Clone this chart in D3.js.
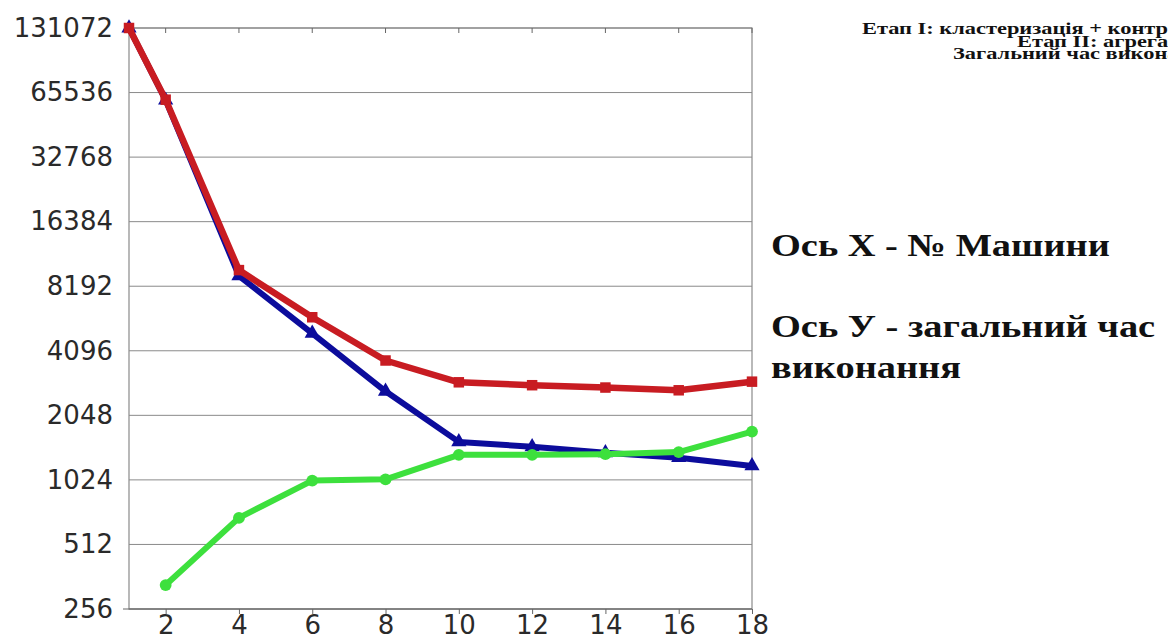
<!DOCTYPE html>
<html>
<head>
<meta charset="utf-8">
<script src="https://cdn.jsdelivr.net/npm/d3@7"></script>
<style>
  html, body { margin: 0; padding: 0; background: #fff; overflow: hidden; }
  svg { display: block; }
</style>
</head>
<body>
<svg id="chart" width="1168" height="639"></svg>
<script>
// machines (x) and execution time per stage (y, log2 scale)
const machines = [1, 2, 4, 6, 8, 10, 12, 14, 16, 18];
const stage1 = [131072, 60400, 9150, 4940, 2650, 1540, 1460, 1370, 1300, 1190];
const stage2 = [null, 331, 681, 1016, 1030, 1340, 1340, 1350, 1380, 1720];
const total = [131072, 60700, 9740, 5870, 3690, 2920, 2830, 2760, 2680, 2940];
const yTicks = [256, 512, 1024, 2048, 4096, 8192, 16384, 32768, 65536, 131072];
const xTicks = [2, 4, 6, 8, 10, 12, 14, 16, 18];
const legendLines = ["Етап I: кластеризація + контроль", "Етап II:  агрегація", "Загальний час виконання"];

var svg = d3.select("#chart");
var plotL = 129, plotR = 752, plotT = 28, plotB = 609;

var x = d3.scaleLinear().domain([1, 18]).range([plotL, plotR]);
var y = d3.scaleLog().base(2).domain([256, 131072]).range([plotB, plotT]);

// gridlines
svg.append("g")
  .selectAll("line")
  .data(yTicks)
  .join("line")
    .attr("x1", plotL).attr("x2", plotR)
    .attr("y1", d => y(d)).attr("y2", d => y(d))
    .attr("stroke", "#8a8a8a").attr("stroke-width", 1);

// frame
svg.append("rect")
  .attr("x", plotL).attr("y", plotT)
  .attr("width", plotR - plotL).attr("height", plotB - plotT)
  .attr("fill", "none").attr("stroke", "#8a8a8a").attr("stroke-width", 1.2);

// top ticks
svg.append("g").selectAll("line").data(xTicks).join("line")
  .attr("x1", d => x(d)).attr("x2", d => x(d))
  .attr("y1", plotT).attr("y2", plotT + 5)
  .attr("stroke", "#666");

// x axis
var xAxis = svg.append("g")
  .attr("transform", "translate(0," + plotB + ")")
  .call(d3.axisBottom(x).tickValues(xTicks).tickSize(5).tickSizeOuter(0));
xAxis.select(".domain").attr("stroke", "#666").attr("d", "M" + (plotL - 6) + ",0H" + plotR);
xAxis.selectAll(".tick line").attr("stroke", "#666");
xAxis.selectAll("text")
  .attr("font-family", "DejaVu Sans").attr("font-size", 26).attr("fill", "#2a2a2a")
  .attr("dy", "0.71em").attr("y", 7);

// y axis
var yAxis = svg.append("g")
  .attr("transform", "translate(" + plotL + ",0)")
  .call(d3.axisLeft(y).tickValues(yTicks).tickFormat(d3.format("d")).tickSize(0).tickPadding(16));
yAxis.select(".domain").remove();
yAxis.selectAll("text")
  .attr("font-family", "DejaVu Sans").attr("font-size", 26).attr("fill", "#2a2a2a");

var line = d3.line()
  .defined(d => d[1] != null)
  .x(d => x(d[0]))
  .y(d => y(d[1]));

function series(vals, color, symbol, size, width) {
  var pts = machines.map((m, i) => [m, vals[i]]);
  svg.append("path")
    .datum(pts)
    .attr("d", line)
    .attr("fill", "none")
    .attr("stroke", color)
    .attr("stroke-width", width)
    .attr("stroke-linejoin", "round");
  svg.append("g").selectAll("path")
    .data(pts.filter(d => d[1] != null))
    .join("path")
      .attr("transform", d => "translate(" + x(d[0]) + "," + y(d[1]) + ")")
      .attr("d", d3.symbol().type(symbol).size(size))
      .attr("fill", color);
}

series(stage1, "#0c0c9c", d3.symbolTriangle, 100, 6);
series(stage2, "#3de03d", d3.symbolCircle, 110, 6);
series(total, "#c81c22", d3.symbolSquare, 110, 6.5);

// legend (cut at the right edge, as in the picture)
var legX = [862, 1017, 953];
svg.append("g").selectAll("text").data(legendLines).join("text")
  .attr("transform", (d, i) => "translate(" + legX[i] + "," + (34 + i * 12.5) + ") scale(1.4,1)")
  .attr("font-family", "Liberation Serif").attr("font-weight", "bold")
  .attr("font-size", 16).attr("fill", "#111")
  .text(d => d);

// axis notes
var notes = [
  {t: "Ось X - № Машини", y: 256},
  {t: "Ось У - загальний час", y: 337},
  {t: "виконання", y: 378}
];
svg.append("g").selectAll("text").data(notes).join("text")
  .attr("transform", d => "translate(771," + d.y + ") scale(1.2,1)")
  .attr("font-family", "Liberation Serif").attr("font-weight", "bold")
  .attr("font-size", 32).attr("fill", "#111")
  .text(d => d.t);
</script>
</body>
</html>
